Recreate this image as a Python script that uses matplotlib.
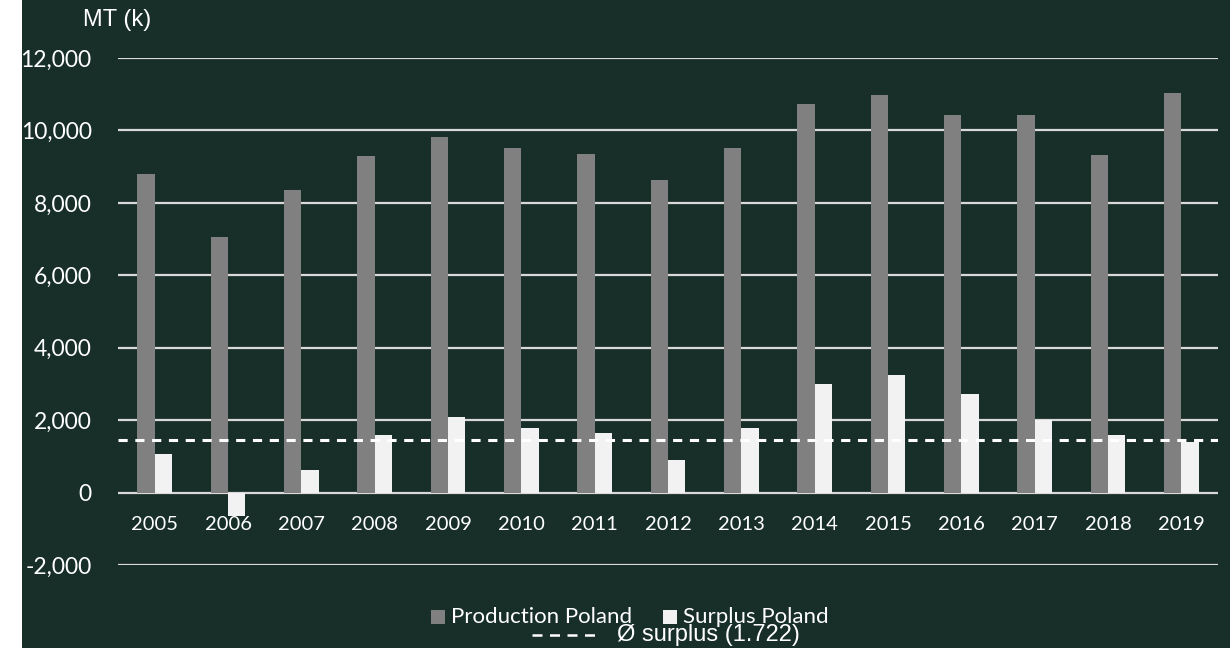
import matplotlib.pyplot as plt
import numpy as np
from matplotlib.patches import Rectangle
from matplotlib.lines import Line2D

years = ["2005", "2006", "2007", "2008", "2009", "2010", "2011", "2012",
         "2013", "2014", "2015", "2016", "2017", "2018", "2019"]
production = [8790, 7070, 8350, 9295, 9805, 9510, 9360, 8620,
              9510, 10725, 10990, 10430, 10430, 9320, 11030]
surplus = [1070, -640, 610, 1580, 2085, 1790, 1645, 905,
           1780, 3000, 3255, 2710, 2005, 1595, 1400]
avg_line = 1450  # drawn position of the "Ø surplus" line
y_ticks = [-2000, 0, 2000, 4000, 6000, 8000, 10000, 12000]

bg = "#182e29"
gray = "#808080"
light = "#f2f2f2"
grid_c = "#d9d9d9"

fig = plt.figure(figsize=(12.3, 6.48), dpi=100, facecolor="white")
# dark panel (leaves a thin white strip on the left like the original)
fig.patches.append(Rectangle((22 / 1230, 0), 1 - 22 / 1230, 1, transform=fig.transFigure,
                             facecolor=bg, edgecolor="none", zorder=-5))

ax = fig.add_axes([118 / 1230, 1 - 565 / 648, 1100 / 1230, (565 - 58) / 648])
ax.set_facecolor("none")
ax.set_zorder(2)

x = np.arange(len(years))
w = 0.236
ax.bar(x - w / 2, production, width=w, color=gray, zorder=3)
ax.bar(x + w / 2, surplus, width=w, color=light, zorder=3)
ax.axhline(avg_line, color="white", lw=2.2, ls=(0, (3, 2.5)), zorder=4)

ax.set_xlim(-0.5, len(years) - 0.5)
ax.set_ylim(-2000, 12000)
ax.set_yticks(y_ticks)
ax.set_yticklabels([f"{v:,}" for v in y_ticks])
ax.set_xticks(x)
ax.set_xticklabels(years)
for v in y_ticks:
    ax.axhline(v, color=grid_c, lw=1.6, zorder=1)

for s in ax.spines.values():
    s.set_visible(False)
ax.spines["bottom"].set_position(("data", 0))
ax.tick_params(axis="both", length=0, colors="white")
ax.tick_params(axis="y", pad=19, labelsize=16.5)
ax.tick_params(axis="x", pad=17, labelsize=14.5)
for lbl in ax.get_xticklabels() + ax.get_yticklabels():
    lbl.set_family("Lato")

fig.text(83 / 1230, 1 - 20 / 648, "MT (k)", color="white", fontsize=17,
         family="Liberation Sans", ha="left", va="center")

# legend
ly = 1 - 617 / 648
fig.patches.append(Rectangle((431 / 1230, ly - 7 / 648), 14 / 1230, 14 / 648,
                             transform=fig.transFigure, facecolor=gray, edgecolor="none"))
fig.text(451 / 1230, ly, "Production Poland", color="white", fontsize=16,
         family="Lato", ha="left", va="center")
fig.patches.append(Rectangle((663 / 1230, ly - 7 / 648), 14 / 1230, 14 / 648,
                             transform=fig.transFigure, facecolor=light, edgecolor="none"))
fig.text(683 / 1230, ly, "Surplus Poland", color="white", fontsize=16,
         family="Lato", ha="left", va="center")
ly2 = 1 - 635 / 648
fig.lines.append(Line2D([532 / 1230, 596 / 1230], [ly2, ly2], transform=fig.transFigure,
                        color="white", lw=1.8, ls=(0, (4, 3))))
fig.text(617 / 1230, ly2, "Ø surplus (1.722)", color="white", fontsize=17,
         family="Liberation Sans", ha="left", va="center")

fig.savefig("out.png", dpi=100, facecolor=fig.get_facecolor())
